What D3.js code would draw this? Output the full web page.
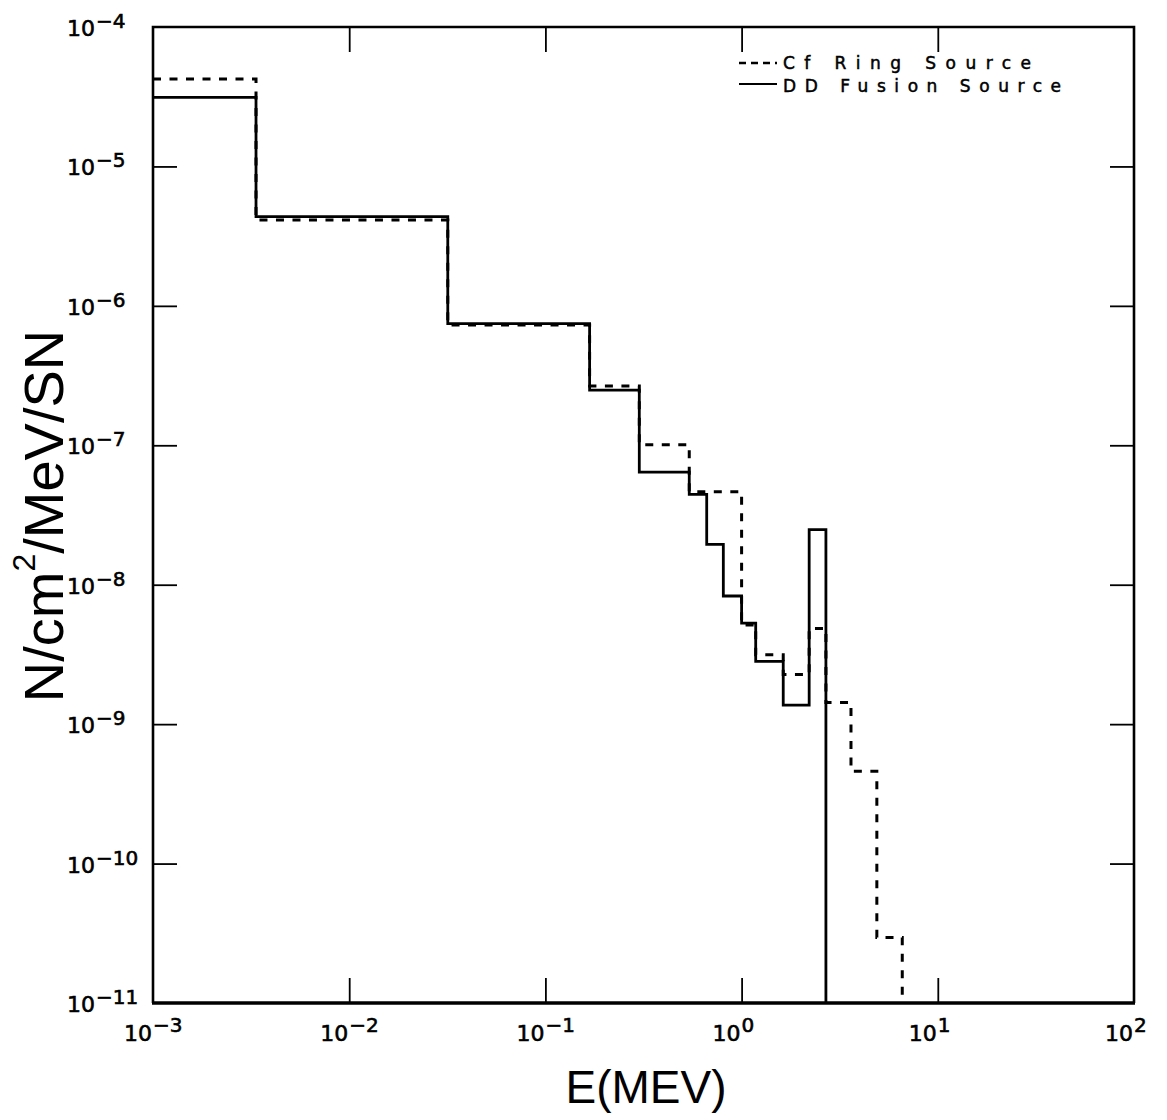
<!DOCTYPE html>
<html>
<head>
<meta charset="utf-8">
<script src="https://cdn.jsdelivr.net/npm/d3@7"></script>
<style>
  html, body { margin: 0; padding: 0; background: #fff; }
  svg { display: block; }
</style>
</head>
<body>
<svg id="chart" width="1167" height="1120"></svg>
<script>
// bin edges (MeV) and flux per bin
const ddEdges = [0.001, 0.00335, 0.0318, 0.168, 0.301, 0.541, 0.664, 0.807, 1.0, 1.18, 1.63, 2.21, 2.69];
const ddFlux  = [3.13e-5, 4.36e-6, 7.45e-7, 2.49e-7, 6.43e-8, 4.45e-8, 1.95e-8, 8.3e-9, 5.3e-9, 2.82e-9, 1.37e-9, 2.48e-8];

const cfEdges = [0.001, 0.00335, 0.0318, 0.168, 0.301, 0.541, 1.0, 1.18, 1.63, 2.21, 2.69, 3.61, 4.89, 6.59];
const cfFlux  = [4.24e-5, 4.13e-6, 7.3e-7, 2.66e-7, 1.01e-7, 4.65e-8, 5.15e-9, 3.15e-9, 2.27e-9, 4.85e-9, 1.43e-9, 4.6e-10, 2.95e-11];

const xDecades = [1e-3, 1e-2, 1e-1, 1e0, 1e1, 1e2];
const yDecades = [1e-11, 1e-10, 1e-9, 1e-8, 1e-7, 1e-6, 1e-5, 1e-4];

const legendLabels = ["Cf Ring Source", "DD Fusion Source"];

const svg = d3.select("#chart");
const plotL = 153, plotR = 1134, plotT = 27, plotB = 1003;

const x = d3.scaleLog().domain([1e-3, 1e2]).range([plotL, plotR]);
const y = d3.scaleLog().domain([1e-11, 1e-4]).range([plotB, plotT]);

// tick marks (inward, no minor ticks)
const innerX = xDecades.slice(1, -1);
const innerY = yDecades.slice(1, -1);

svg.append("g").attr("transform", `translate(0,${plotB})`)
  .call(d3.axisBottom(x).tickValues(innerX).tickSize(-25).tickFormat(""));
svg.append("g").attr("transform", `translate(0,${plotT})`)
  .call(d3.axisTop(x).tickValues(innerX).tickSize(-25).tickFormat(""));
svg.append("g").attr("transform", `translate(${plotL},0)`)
  .call(d3.axisLeft(y).tickValues(innerY).tickSize(-24).tickFormat(""));
svg.append("g").attr("transform", `translate(${plotR},0)`)
  .call(d3.axisRight(y).tickValues(innerY).tickSize(-24).tickFormat(""));

svg.selectAll(".domain").remove();
svg.selectAll(".tick line").attr("stroke", "#000").attr("stroke-width", 1.8);

// step lines
function stepPoints(edges, flux) {
  const pts = flux.map((v, i) => [edges[i], v]);
  pts.push([edges[edges.length - 1], y.domain()[0]]); // drop to floor
  return pts;
}
const line = d3.line()
  .x(d => x(d[0]))
  .y(d => y(d[1]))
  .curve(d3.curveStepAfter);

svg.append("path")
  .attr("d", line(stepPoints(cfEdges, cfFlux)))
  .attr("fill", "none")
  .attr("stroke", "#000")
  .attr("stroke-width", 3)
  .attr("stroke-dasharray", "8,8.5");

svg.append("path")
  .attr("d", line(stepPoints(ddEdges, ddFlux)))
  .attr("fill", "none")
  .attr("stroke", "#000")
  .attr("stroke-width", 2.8);

// frame
svg.append("path")
  .attr("d", `M${plotL},${plotB}V${plotT}H${plotR}V${plotB}`)
  .attr("fill", "none").attr("stroke", "#000").attr("stroke-width", 2.6);
svg.append("line")
  .attr("x1", plotL - 1).attr("x2", plotR + 1)
  .attr("y1", plotB).attr("y2", plotB)
  .attr("stroke", "#000").attr("stroke-width", 3.6);

// tick labels: 10 with superscript exponent
const fnt = "'DejaVu Sans', sans-serif";
const expText = v => {
  const e = Math.round(Math.log10(v));
  return e < 0 ? "\u2212" + (-e) : String(e);
};

const xl = svg.append("g").style("font-family", fnt)
  .attr("fill", "#000").attr("stroke", "#000").attr("stroke-width", 0.6);
xDecades.forEach(v => {
  xl.append("text").attr("x", x(v) - 1).attr("y", 1041)
    .attr("text-anchor", "end").style("font-size", "22px").text("10");
  xl.append("text").attr("x", x(v)).attr("y", 1032)
    .style("font-size", "20px").text(expText(v));
});

const yl = svg.append("g").style("font-family", fnt)
  .attr("fill", "#000").attr("stroke", "#000").attr("stroke-width", 0.6);
yDecades.forEach(v => {
  yl.append("text").attr("x", 95).attr("y", y(v) + 9)
    .attr("text-anchor", "end").style("font-size", "22px").text("10");
  yl.append("text").attr("x", 96).attr("y", y(v) + 1)
    .style("font-size", "20px").text(expText(v));
});

// axis titles
svg.append("text")
  .attr("x", 646).attr("y", 1103)
  .attr("text-anchor", "middle")
  .style("font-family", "'Liberation Sans', Arial, sans-serif")
  .style("font-size", "46px")
  .text("E(MEV)");

const yt = svg.append("text")
  .attr("transform", "translate(63,516) rotate(-90)")
  .attr("text-anchor", "middle")
  .style("font-family", "'Liberation Sans', Arial, sans-serif")
  .style("font-size", "56px");
yt.append("tspan").text("N/cm");
yt.append("tspan").attr("dy", -28).style("font-size", "32px").text("2");
yt.append("tspan").attr("dy", 28).text("/MeV/SN");

// legend
const lg = svg.append("g");
lg.append("line").attr("x1", 739).attr("x2", 777).attr("y1", 63).attr("y2", 63)
  .attr("stroke", "#000").attr("stroke-width", 2.6).attr("stroke-dasharray", "7,5");
lg.append("line").attr("x1", 739).attr("x2", 777).attr("y1", 84).attr("y2", 84)
  .attr("stroke", "#000").attr("stroke-width", 2.2);
lg.selectAll("text.leg")
  .data(legendLabels)
  .join("text")
  .attr("class", "leg")
  .attr("x", 783)
  .attr("y", (d, i) => 69 + i * 23)
  .attr("textLength", (d, i) => i ? 278 : 248)
  .attr("lengthAdjust", "spacing")
  .attr("fill", "#000").attr("stroke", "#000").attr("stroke-width", 0.5)
  .style("font-family", fnt).style("font-size", "17px")
  .text(d => d);
</script>
</body>
</html>
